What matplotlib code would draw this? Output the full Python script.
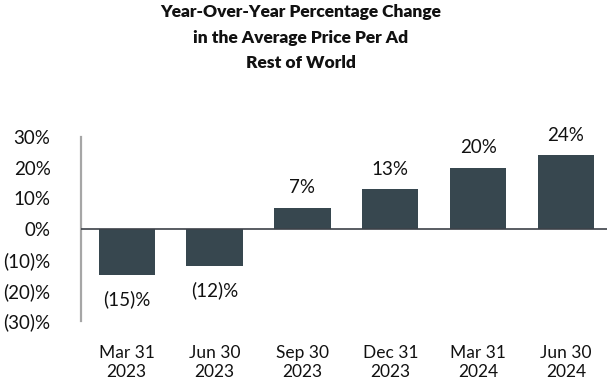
import matplotlib
matplotlib.use("Agg")
import matplotlib.pyplot as plt
import numpy as np

plt.rcParams['font.family'] = ['Lato', 'DejaVu Sans']

# Quarter end dates and YoY change in average price per ad (%)
quarters = ["Mar 31\n2023", "Jun 30\n2023", "Sep 30\n2023",
            "Dec 31\n2023", "Mar 31\n2024", "Jun 30\n2024"]
changes = [-15, -12, 7, 13, 20, 24]
ytick_vals = [30, 20, 10, 0, -10, -20, -30]
ytick_labels = ["30%", "20%", "10%", "0%", "(10)%", "(20)%", "(30)%"]

bar_color = "#37474f"

fig = plt.figure(figsize=(6.14, 3.84), dpi=100)
ax = fig.add_axes([0.132, 0.164, 0.857, 0.479])

x = np.arange(len(quarters))
ax.bar(x, changes, width=0.64, color=bar_color, zorder=2)
ax.axhline(0, color="#3c4148", lw=1.2, zorder=3)

# data labels: negatives in parentheses below, positives above
for xi, v in zip(x, changes):
    if v < 0:
        ax.annotate(f"({abs(v)})%", (xi, v), xytext=(0, -24), textcoords="offset pixels",
                    ha="center", va="center", fontsize=13.5, color="#111111")
    else:
        ax.annotate(f"{v}%", (xi, v), xytext=(0, 20), textcoords="offset pixels",
                    ha="center", va="center", fontsize=13.5, color="#111111")

ax.set_xlim(-0.52, 5.47)
ax.set_ylim(-30, 30)
ax.set_yticks(ytick_vals)
ax.set_yticklabels(ytick_labels, fontsize=13.5, color="#111111")
ax.set_xticks(x)
ax.set_xticklabels(quarters, fontsize=12.5, color="#111111", linespacing=1.25)
ax.tick_params(axis="both", length=0)
ax.tick_params(axis="x", pad=17)
ax.tick_params(axis="y", pad=22)

for s in ["top", "right", "bottom"]:
    ax.spines[s].set_visible(False)
ax.spines["left"].set_color("#a6a6a6")
ax.spines["left"].set_linewidth(1.6)

fig.text(0.49, 0.99, "Year-Over-Year Percentage Change\nin the Average Price Per Ad\nRest of World",
         ha="center", va="top", fontsize=12.5, fontweight="heavy", linespacing=1.75, color="#111111")

fig.savefig("out.png", dpi=100)
